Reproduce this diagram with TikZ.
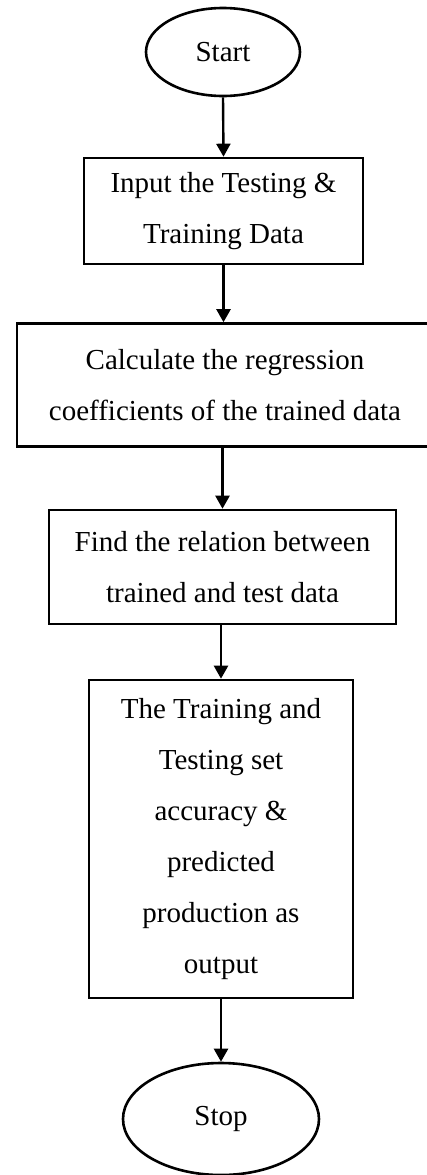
\documentclass[tikz,border=0pt]{standalone}
\usepackage{fontspec}
\setmainfont{Liberation Serif}
\usetikzlibrary{shapes.geometric,arrows.meta}

\tikzset{
  base/.style={draw=black, line width=2.6pt, inner sep=0pt, align=center,
    font=\fontsize{29pt}{51pt}\selectfont},
  terminal/.style={base, ellipse},
  process/.style={base, rectangle},
  flow/.style={line width=2.4pt, -{Triangle[width=14pt,length=13pt]}}
}

\begin{document}
\begin{tikzpicture}[x=1pt, y=-1pt]
  \useasboundingbox (0,0) rectangle (427,1175);

  \node[terminal, minimum width=154pt, minimum height=88pt] (start) at (223,52) {Start};

  \node[process, minimum width=279pt, minimum height=106pt] (input) at (223.5,211)
    {Input the Testing \&\\Training Data};

  \node[process, minimum width=416pt, minimum height=123pt] (coef) at (225,385)
    {Calculate the regression\\coefficients of the trained data};

  \node[process, minimum width=347pt, minimum height=114pt] (rel) at (222.5,567)
    {Find the relation between\\trained and test data};

  \node[process, minimum width=264pt, minimum height=318pt] (out) at (221,839)
    {The Training and\\Testing set\\accuracy \&\\predicted\\production as\\output};

  \node[terminal, minimum width=196pt, minimum height=112pt] (stop) at (221,1119) {Stop};

  \draw[flow] (start.south) -- (input.north);
  \draw[flow] (input.south) -- (coef.north -| input.south);
  \draw[flow] (coef.south -| rel.north) -- (rel.north);
  \draw[flow] (rel.south -| out.north) -- (out.north);
  \draw[flow] (out.south) -- (stop.north);
\end{tikzpicture}
\end{document}
